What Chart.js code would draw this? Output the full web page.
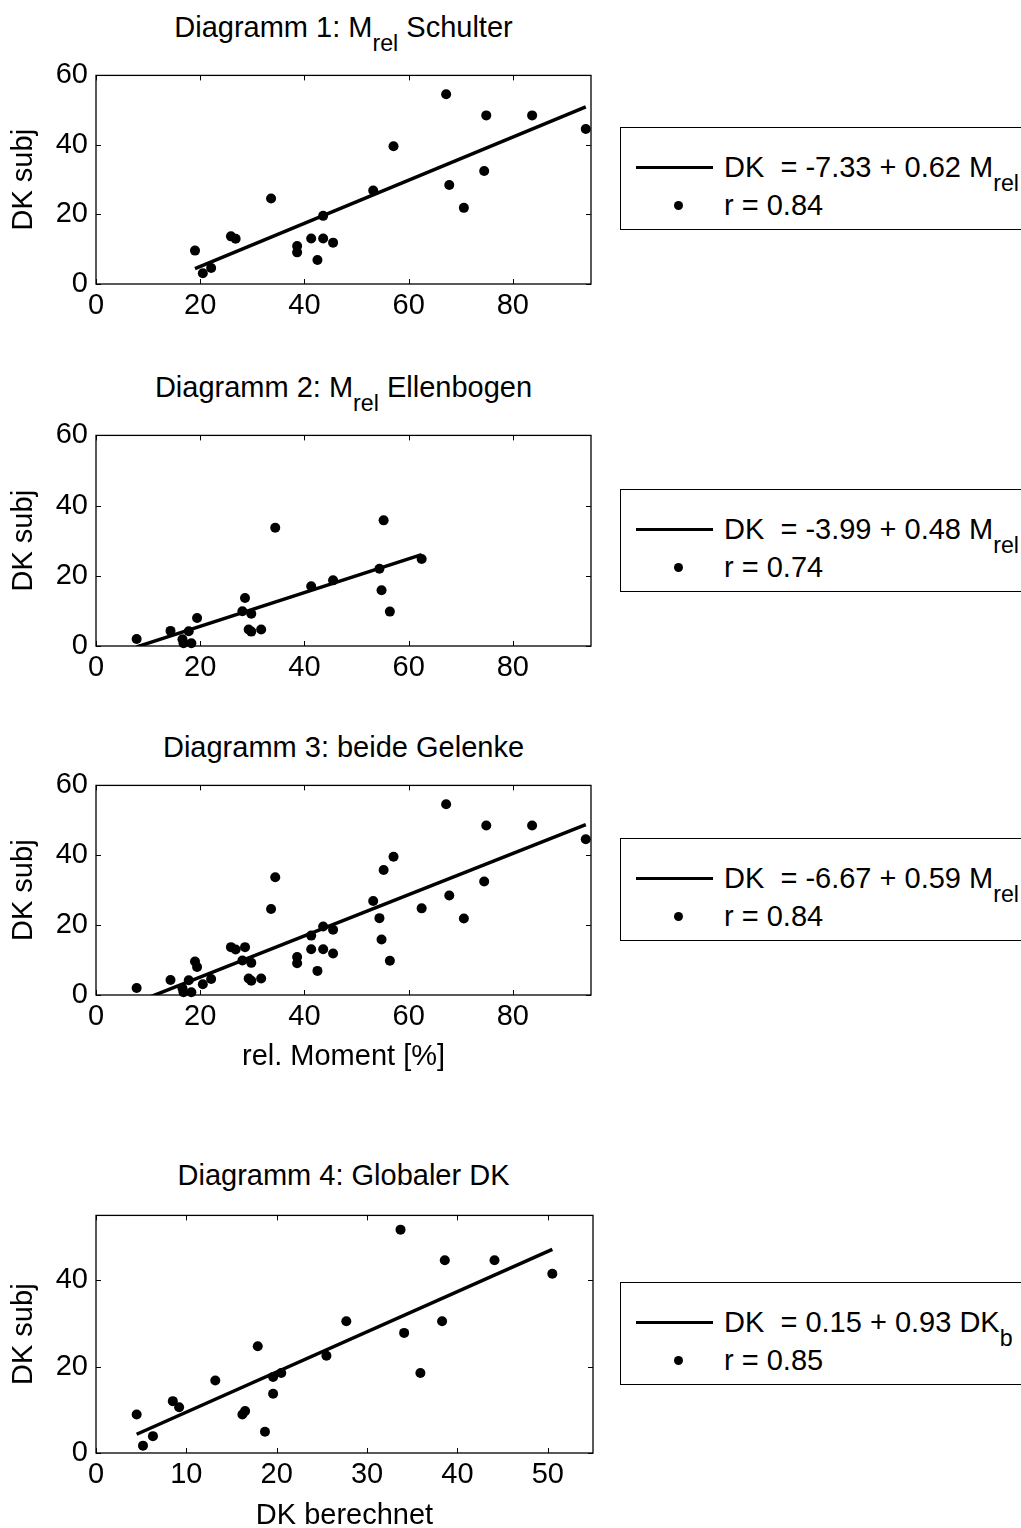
<!DOCTYPE html>
<html>
<head>
<meta charset="utf-8">
<script src="https://cdn.jsdelivr.net/npm/chart.js@4.4.0/dist/chart.umd.min.js"></script>
<style>
  html, body { margin: 0; padding: 0; background: #fff; }
  body { width: 1021px; height: 1528px; overflow: hidden; position: relative;
         font-family: "Liberation Sans", Arial, Helvetica, sans-serif; color: #000; }
  .ttl { position: absolute; left: 96px; width: 495px; text-align: center;
         font-size: 29px; line-height: 1; white-space: pre; }
  .sub { font-size: 0.8em; position: relative; top: 0.6em; }
  canvas { position: absolute; left: 0; }
  .leg { position: absolute; left: 620px; width: 460px; height: 103px;
         border: 1.3px solid #000; box-sizing: border-box; background: #fff; }
  .leg .ln { position: absolute; left: 15px; width: 77px; height: 3px; background: #000; }
  .leg .dot { position: absolute; left: 53px; width: 9px; height: 9px; border-radius: 50%; background: #000; }
  .leg .txt { position: absolute; left: 103px; font-size: 29px; line-height: 1; white-space: pre; }
</style>
</head>
<body>
<script>
// Relative moment at the shoulder [%] and subjective discomfort (DK subj)
const shoulderMrel = [19.0, 20.5, 22.1, 25.9, 26.8, 33.6, 38.6, 38.6, 41.3, 42.5, 43.6,
                      43.6, 45.5, 53.2, 57.1, 67.2, 67.8, 70.6, 74.5, 74.9, 83.7, 94.0];
const shoulderDK   = [9.6, 3.1, 4.6, 13.7, 13.0, 24.6, 10.9, 9.1, 13.1, 6.9, 13.1,
                      19.6, 11.9, 26.9, 39.6, 54.6, 28.5, 21.9, 32.5, 48.5, 48.5, 44.6];

// Relative moment at the elbow [%] and subjective discomfort
const elbowMrel = [7.8, 14.3, 16.6, 16.8, 17.8, 18.3, 19.4, 28.1, 28.6, 29.8, 29.3,
                   29.8, 31.7, 34.4, 41.3, 45.5, 54.4, 54.8, 55.2, 56.4, 62.5];
const elbowDK   = [2.0, 4.3, 1.9, 0.8, 4.2, 0.8, 8.0, 9.9, 13.7, 9.2, 4.7,
                   4.1, 4.7, 33.7, 17.0, 18.7, 22.0, 15.9, 35.8, 9.8, 24.8];

// Calculated global discomfort vs. subjective discomfort
const globalDKb = [4.5, 5.2, 6.3, 8.5, 9.2, 13.2, 16.2, 16.5, 17.9, 18.7, 19.6,
                   19.6, 20.5, 25.5, 27.7, 33.7, 34.1, 35.9, 38.3, 38.6, 44.1, 50.5];
const globalDK  = [8.9, 1.7, 3.9, 12.0, 10.6, 16.8, 8.9, 9.7, 24.7, 4.9, 17.6,
                   13.7, 18.5, 22.5, 30.5, 51.7, 27.8, 18.5, 30.5, 44.6, 44.6, 41.5];

// Regression lines DK = a + b * x and correlation coefficients
const fitIntercepts = [-7.33, -3.99, -6.67, 0.15];
const fitSlopes     = [0.62, 0.48, 0.59, 0.93];
const correlations  = [0.84, 0.74, 0.84, 0.85];

// Tick labels
const momentTicks  = [0, 20, 40, 60, 80];
const dkSubjTicks  = [0, 20, 40, 60];
const dkCalcTicks  = [0, 10, 20, 30, 40, 50];
const dkSubjTicks4 = [0, 20, 40];

const FONT = '"Liberation Sans", Arial, Helvetica, sans-serif';
const FS = 29;
const CANVAS_W = 620;

// Axis frame with inward tick marks on all four sides
const framePlugin = {
  id: 'frame',
  afterDraw(chart) {
    const { ctx, chartArea: a, scales: { x, y } } = chart;
    ctx.save();
    ctx.strokeStyle = '#000';
    ctx.lineWidth = 1.3;
    ctx.strokeRect(a.left, a.top, a.right - a.left, a.bottom - a.top);
    ctx.lineWidth = 1;
    const L = 5;
    ctx.beginPath();
    x.ticks.forEach(t => {
      const px = Math.round(x.getPixelForValue(t.value)) + 0.5;
      ctx.moveTo(px, a.bottom); ctx.lineTo(px, a.bottom - L);
      ctx.moveTo(px, a.top);    ctx.lineTo(px, a.top + L);
    });
    y.ticks.forEach(t => {
      const py = Math.round(y.getPixelForValue(t.value)) + 0.5;
      ctx.moveTo(a.left, py);  ctx.lineTo(a.left + L, py);
      ctx.moveTo(a.right, py); ctx.lineTo(a.right - L, py);
    });
    ctx.stroke();
    ctx.restore();
  }
};

const panels = [
  { title: 'Diagramm 1: M<span class="sub">rel</span> Schulter',
    xs: shoulderMrel, ys: shoulderDK, xMax: 95, yMax: 60, xTicks: momentTicks, yTicks: dkSubjTicks,
    xVar: 'M<span class="sub">rel</span>',
    titleCy: 27, canvasTop: 50, boxTop: 69, boxBottom: 284, canvasBottom: 340, right: 591,
    legendTop: 127, xTitle: '' },
  { title: 'Diagramm 2: M<span class="sub">rel</span> Ellenbogen',
    xs: elbowMrel, ys: elbowDK, xMax: 95, yMax: 60, xTicks: momentTicks, yTicks: dkSubjTicks,
    xVar: 'M<span class="sub">rel</span>',
    titleCy: 387, canvasTop: 410, boxTop: 431, boxBottom: 646, canvasBottom: 700, right: 591,
    legendTop: 489, xTitle: '' },
  { title: 'Diagramm 3: beide Gelenke',
    xs: shoulderMrel.concat(elbowMrel), ys: shoulderDK.concat(elbowDK),
    xMax: 95, yMax: 60, xTicks: momentTicks, yTicks: dkSubjTicks,
    xVar: 'M<span class="sub">rel</span>',
    titleCy: 747, canvasTop: 760, boxTop: 779, boxBottom: 995, canvasBottom: 1079, right: 591,
    legendTop: 838, xTitle: 'rel. Moment [%]' },
  { title: 'Diagramm 4: Globaler DK',
    xs: globalDKb, ys: globalDK, xMax: 55, yMax: 55, xTicks: dkCalcTicks, yTicks: dkSubjTicks4,
    xVar: 'DK<span class="sub">b</span>',
    titleCy: 1175, canvasTop: 1190, boxTop: 1206, boxBottom: 1453, canvasBottom: 1538, right: 593,
    legendTop: 1282, xTitle: 'DK berechnet' }
];

const capCenter = 0.49 * FS; // offset from line-box top to cap middle (line-height 1)

panels.forEach((p, i) => {
  // title
  const t = document.createElement('div');
  t.className = 'ttl';
  t.style.top = (p.titleCy - capCenter) + 'px';
  t.innerHTML = p.title;
  document.body.appendChild(t);

  // chart canvas
  const cv = document.createElement('canvas');
  const h = p.canvasBottom - p.canvasTop;
  cv.width = CANVAS_W; cv.height = h;
  cv.style.top = p.canvasTop + 'px';
  cv.style.width = CANVAS_W + 'px'; cv.style.height = h + 'px';
  document.body.appendChild(cv);

  const a = fitIntercepts[i], b = fitSlopes[i];
  const xMin = Math.min(...p.xs), xMaxD = Math.max(...p.xs);
  const fit = [{ x: xMin, y: a + b * xMin }, { x: xMaxD, y: a + b * xMaxD }];
  const pts = p.xs.map((x, k) => ({ x, y: p.ys[k] }));

  const font = { family: FONT, size: FS };
  new Chart(cv, {
    type: 'scatter',
    data: {
      datasets: [
        { data: fit, showLine: true, borderColor: '#000', borderWidth: 3.5,
          pointRadius: 0, clip: 0, order: 1 },
        { data: pts, pointRadius: 5, pointBackgroundColor: '#000',
          pointBorderWidth: 0, clip: 12, order: 0 }
      ]
    },
    options: {
      responsive: false, animation: false, devicePixelRatio: 1,
      layout: { padding: { top: p.boxTop - p.canvasTop, right: CANVAS_W - p.right, left: 0, bottom: 0 } },
      plugins: { legend: { display: false }, tooltip: { enabled: false } },
      scales: {
        x: {
          type: 'linear', min: 0, max: p.xMax,
          afterBuildTicks: s => { s.ticks = p.xTicks.map(v => ({ value: v })); },
          afterFit: s => { s.height = p.canvasBottom - p.boxBottom; },
          grid: { display: false, drawTicks: false }, border: { display: false },
          ticks: { font, color: '#000', padding: 5, maxRotation: 0, autoSkip: false },
          title: { display: !!p.xTitle, text: p.xTitle, font, color: '#000',
                   padding: { top: 0, bottom: 5 } }
        },
        y: {
          type: 'linear', min: 0, max: p.yMax,
          afterBuildTicks: s => { s.ticks = p.yTicks.map(v => ({ value: v })); },
          afterFit: s => { s.width = 96; },
          grid: { display: false, drawTicks: false }, border: { display: false },
          ticks: { font, color: '#000', padding: 8, autoSkip: false },
          title: { display: true, text: 'DK subj', font, color: '#000',
                   padding: { top: 7, bottom: 0 } }
        }
      }
    },
    plugins: [framePlugin]
  });

  // legend box
  const lg = document.createElement('div');
  lg.className = 'leg';
  lg.style.top = p.legendTop + 'px';
  const sign = a < 0 ? '-' : '';
  lg.innerHTML =
    '<div class="ln" style="top:' + (39 - 1.5) + 'px"></div>' +
    '<div class="txt" style="top:' + (39 - capCenter) + 'px">DK  = ' + sign + Math.abs(a).toFixed(2) +
      ' + ' + b.toFixed(2) + ' ' + p.xVar + '</div>' +
    '<div class="dot" style="top:' + (77 - 4.5) + 'px"></div>' +
    '<div class="txt" style="top:' + (77 - capCenter) + 'px">r = ' + correlations[i].toFixed(2) + '</div>';
  document.body.appendChild(lg);
});
</script>
</body>
</html>
